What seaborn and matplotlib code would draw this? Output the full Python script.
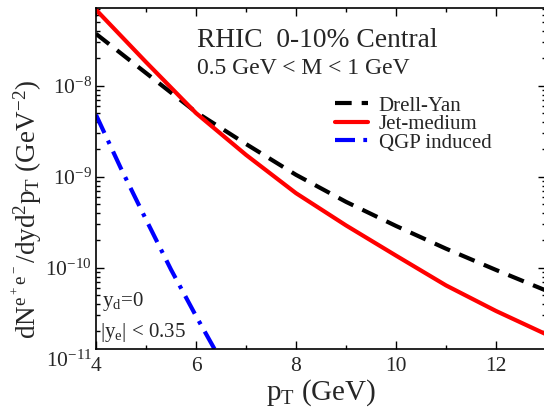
import numpy as np
import pandas as pd
import matplotlib
matplotlib.use("Agg")
import matplotlib.pyplot as plt
import matplotlib.ticker as mticker
import matplotlib.transforms as mtrans
import seaborn as sns

# ---- data ----
pt_main = [4, 5, 6, 7, 8, 9, 10, 11, 12, 13]
drell_yan = [3.72e-8, 1.38e-8, 5.13e-9, 2.29e-9, 1.05e-9, 5.30e-10, 2.88e-10, 1.62e-10, 9.46e-11, 5.62e-11]
jet_medium = [6.84e-8, 1.82e-8, 5.01e-9, 1.74e-9, 6.60e-10, 2.92e-10, 1.36e-10, 6.40e-11, 3.35e-11, 1.86e-11]
pt_qgp = [4.0, 4.5, 5.0, 5.5, 6.0, 6.5]
qgp_induced = [4.79e-9, 1.23e-9, 3.39e-10, 9.55e-11, 2.95e-11, 9.55e-12]

series_labels = ["Drell-Yan", "Jet-medium", "QGP induced"]
x_ticks = [4, 6, 8, 10, 12]
y_decades = [1e-11, 1e-10, 1e-9, 1e-8]

sns.set_style("ticks")
plt.rcParams["font.family"] = ["Liberation Serif", "DejaVu Serif"]
plt.rcParams["mathtext.fontset"] = "custom"
plt.rcParams["mathtext.rm"] = "Liberation Serif"
plt.rcParams["mathtext.it"] = "Liberation Serif"
plt.rcParams["mathtext.bf"] = "Liberation Serif:bold"

W, H = 544, 411
fig = plt.figure(figsize=(W / 100, H / 100), dpi=100)
ax_l, ax_r, ax_t, ax_b = 96, 546, 8, 349
ax = fig.add_axes([ax_l / W, 1 - ax_b / H, (ax_r - ax_l) / W, (ax_b - ax_t) / H])

df_dy = pd.DataFrame({"pt": pt_main, "val": drell_yan})
df_jm = pd.DataFrame({"pt": pt_main, "val": jet_medium})
df_qg = pd.DataFrame({"pt": pt_qgp, "val": qgp_induced})

lw = 3.0
sns.lineplot(data=df_dy, x="pt", y="val", ax=ax, color="black", lw=lw,
             label=series_labels[0])
sns.lineplot(data=df_jm, x="pt", y="val", ax=ax, color="#ff0000", lw=lw,
             label=series_labels[1])
sns.lineplot(data=df_qg, x="pt", y="val", ax=ax, color="#0000ff", lw=lw,
             label=series_labels[2])
lines = ax.get_lines()
lines[0].set_dashes([4.0, 2.4])
lines[0].set_dash_capstyle("butt")
lines[2].set_dashes([4.8, 2.0, 0.9, 2.0])
lines[2].set_dash_capstyle("butt")

ax.set_yscale("log")
ax.set_xlim(4, 13)
ax.set_ylim(1.28e-11, 7.15e-8)

ax.xaxis.set_major_locator(mticker.FixedLocator(x_ticks))
ax.xaxis.set_minor_locator(mticker.MultipleLocator(1))
ax.yaxis.set_major_locator(mticker.FixedLocator(y_decades))
ax.yaxis.set_minor_locator(mticker.LogLocator(base=10, subs=np.arange(2, 10)))
ax.yaxis.set_minor_formatter(mticker.NullFormatter())
ax.yaxis.set_major_formatter(mticker.FuncFormatter(
    lambda v, p: r"$10^{%d}$" % int(round(np.log10(v)))))

tick_fs = 15.5
ax.tick_params(which="both", direction="in", top=True, right=True, width=1.0,
               labelsize=tick_fs, color="black")
ax.tick_params(which="major", length=6)
ax.tick_params(which="minor", length=3)
ax.tick_params(axis="x", which="major", pad=6)
ax.tick_params(axis="y", which="major", pad=3)
for s in ax.spines.values():
    s.set_linewidth(1.2)
    s.set_color("black")

# 10^-11 label sits just below the clipped axis bottom in the reference
trans = mtrans.blended_transform_factory(ax.transAxes, ax.transData)
ax.text(-4 / 450, 1e-11, r"$10^{-11}$", transform=trans, ha="right",
        va="center_baseline", fontsize=tick_fs, clip_on=False)

ax.set_xlabel(r"p$_\mathrm{T}$ (GeV)", fontsize=21)
ax.xaxis.set_label_coords(0.5, -(400 - ax_b) / (ax_b - ax_t), transform=ax.transAxes)
ax.xaxis.label.set_va("baseline")
ax.set_ylabel(r"dN$^{e^+e^-}$/dyd$^2$p$_\mathrm{T}$ (GeV$^{-2}$)", fontsize=19.5)
ax.yaxis.set_label_coords(-(ax_l - 44) / (ax_r - ax_l), (ax_b - 209) / (ax_b - ax_t))

fig.text(197 / W, 1 - 47 / H, "RHIC  0-10% Central", fontsize=19.8, va="baseline")
fig.text(197 / W, 1 - 74 / H, "0.5 GeV < M < 1 GeV", fontsize=17, va="baseline")
fig.text(102 / W, 1 - 306 / H, r"y$_\mathrm{d}$=0", fontsize=15, va="baseline")
fig.text(100 / W, 1 - 337 / H, r"|y$_\mathrm{e}$| < 0.35", fontsize=15, va="baseline")

leg = ax.legend(loc="upper left", bbox_to_anchor=(335 / W, 1 - 96 / H),
                bbox_transform=fig.transFigure, frameon=False, fontsize=15,
                borderpad=0, borderaxespad=0, handlelength=1.6, handletextpad=0.5,
                labelspacing=-0.05)

fig.savefig("out.png", dpi=100)
